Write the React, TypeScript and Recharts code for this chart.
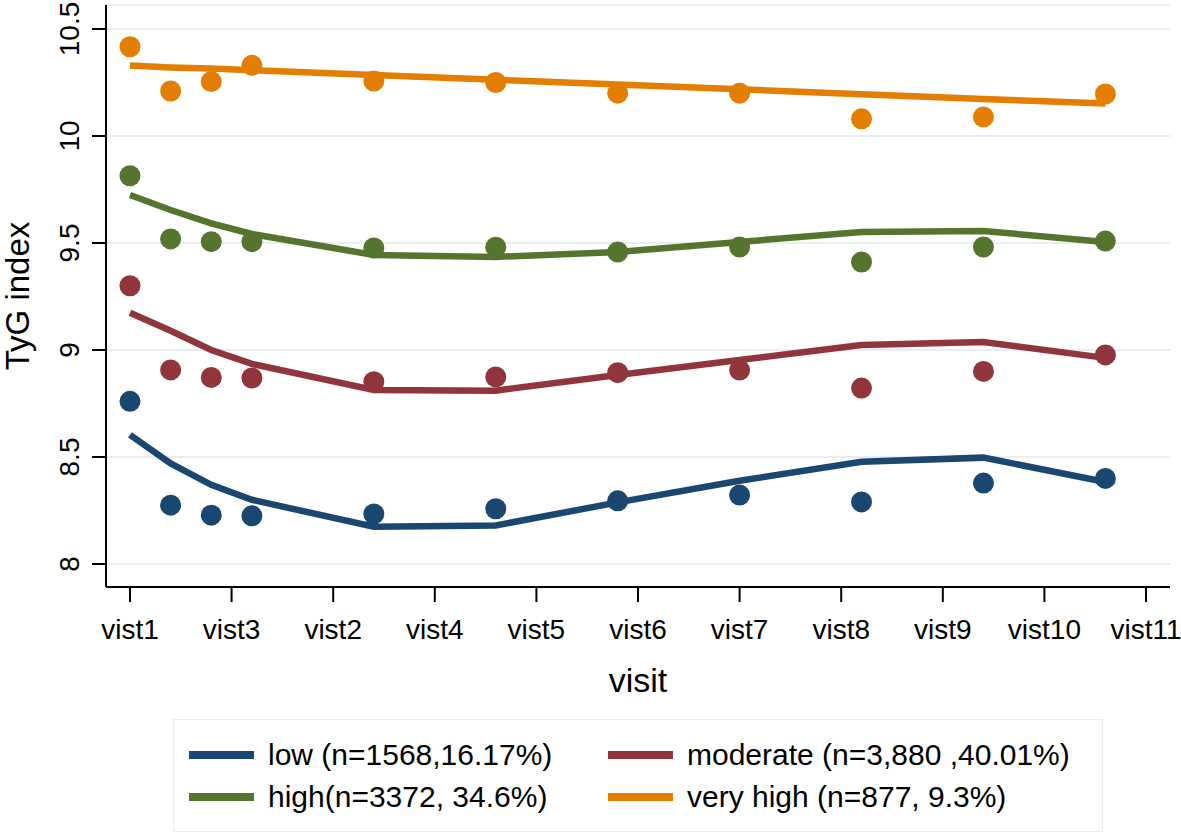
import React from "react";
import {
  ComposedChart,
  Line,
  Scatter,
  XAxis,
  YAxis,
  CartesianGrid,
} from "recharts";

// visit positions (x) and axis tick labels as printed in the figure
const visitX = [1, 1.4, 1.8, 2.2, 3.4, 4.6, 5.8, 7.0, 8.2, 9.4, 10.6];
const xTicks = [1, 2, 3, 4, 5, 6, 7, 8, 9, 10, 11];
const xTickLabels = [
  "vist1", "vist3", "vist2", "vist4", "vist5", "vist6",
  "vist7", "vist8", "vist9", "vist10", "vist11",
];
const yTicks = [8, 8.5, 9, 9.5, 10, 10.5];

// observed means (dots) and fitted trajectories (lines)
const lowObs = [8.76, 8.275, 8.228, 8.225, 8.234, 8.258, 8.295, 8.322, 8.29, 8.378, 8.4];
const lowFit = [8.603, 8.47, 8.37, 8.3, 8.174, 8.18, 8.288, 8.389, 8.478, 8.497, 8.383];
const modObs = [9.3, 8.907, 8.872, 8.869, 8.852, 8.874, 8.894, 8.906, 8.822, 8.9, 8.977];
const modFit = [9.174, 9.09, 9.0, 8.935, 8.813, 8.81, 8.883, 8.953, 9.023, 9.037, 8.963];
const highObs = [9.814, 9.519, 9.506, 9.506, 9.477, 9.48, 9.458, 9.481, 9.411, 9.481, 9.509];
const highFit = [9.724, 9.654, 9.592, 9.542, 9.444, 9.435, 9.458, 9.505, 9.551, 9.556, 9.505];
const vhighObs = [10.417, 10.21, 10.254, 10.33, 10.257, 10.25, 10.2, 10.2, 10.08, 10.089, 10.196];
const vhighFit = [10.329, 10.32, 10.315, 10.307, 10.285, 10.263, 10.24, 10.218, 10.195, 10.173, 10.152];

const groups = [
  { key: "low", name: "low (n=1568,16.17%)", color: "#1a476f" },
  { key: "mod", name: "moderate (n=3,880 ,40.01%)", color: "#90353b" },
  { key: "high", name: "high(n=3372, 34.6%)", color: "#55752f" },
  { key: "vhigh", name: "very high (n=877, 9.3%)", color: "#e37e00" },
];

const rows = visitX.map((x, i) => ({
  x,
  lowObs: lowObs[i],
  lowFit: lowFit[i],
  modObs: modObs[i],
  modFit: modFit[i],
  highObs: highObs[i],
  highFit: highFit[i],
  vhighObs: vhighObs[i],
  vhighFit: vhighFit[i],
}));

const FONT = '"Liberation Sans", Arial, sans-serif';

const YTick = (props: any) => {
  const { x, y, payload } = props;
  const bx = x - 11;
  return (
    <text
      x={bx}
      y={y}
      transform={`rotate(-90, ${bx}, ${y})`}
      textAnchor="middle"
      fontSize={28}
      fill="#000"
      fontFamily={FONT}
    >
      {payload.value}
    </text>
  );
};

const YTitle = (props: any) => {
  const { viewBox } = props;
  const cy = viewBox.y + viewBox.height / 2;
  return (
    <text
      x={29}
      y={cy}
      transform={`rotate(-90, 29, ${cy})`}
      textAnchor="middle"
      fontSize={33}
      fill="#000"
      fontFamily={FONT}
    >
      TyG index
    </text>
  );
};

export default function App() {
  return (
    <div
      style={{
        position: "absolute",
        left: 0,
        top: 0,
        width: 1181,
        height: 834,
        background: "#fff",
        fontFamily: FONT,
      }}
    >
      <ComposedChart
        width={1181}
        height={834}
        data={rows}
        margin={{ top: 5, right: 11, left: 0, bottom: 137 }}
      >
        <CartesianGrid vertical={false} stroke="#e8eff2" strokeWidth={2} />
        <XAxis
          dataKey="x"
          type="number"
          domain={[0.764, 11.236]}
          ticks={xTicks}
          tickFormatter={(v: number) => xTickLabels[v - 1]}
          allowDataOverflow
          height={110}
          tickSize={15}
          tickMargin={17}
          axisLine={{ stroke: "#000", strokeWidth: 2 }}
          tickLine={{ stroke: "#000", strokeWidth: 2 }}
          tick={{ fontSize: 28, fill: "#000", fontFamily: FONT }}
          label={{
            value: "visit",
            position: "insideBottom",
            offset: 5,
            fontSize: 34,
            fill: "#000",
            fontFamily: FONT,
          }}
        />
        <YAxis
          type="number"
          domain={[7.8925, 10.612]}
          ticks={yTicks}
          allowDataOverflow
          width={106}
          tickSize={14}
          axisLine={{ stroke: "#000", strokeWidth: 2 }}
          tickLine={{ stroke: "#000", strokeWidth: 2 }}
          tick={<YTick />}
          label={{ content: <YTitle /> } as any}
        />
        {groups.map((g) => (
          <Line
            key={g.key + "Fit"}
            dataKey={g.key + "Fit"}
            type="linear"
            stroke={g.color}
            strokeWidth={6.5}
            dot={false}
            activeDot={false}
            isAnimationActive={false}
          />
        ))}
        {groups.map((g) => (
          <Scatter
            key={g.key + "Obs"}
            dataKey={g.key + "Obs"}
            fill={g.color}
            isAnimationActive={false}
            shape={(p: any) => <circle cx={p.cx} cy={p.cy} r={10.5} fill={g.color} />}
          />
        ))}
      </ComposedChart>

      <div
        style={{
          position: "absolute",
          left: 173,
          top: 719,
          width: 930,
          height: 113,
          boxSizing: "border-box",
          border: "1.5px solid #e6eef2",
        }}
      >
        {groups.map((g, i) => {
          const col = i % 2;
          const row = Math.floor(i / 2);
          return (
            <div
              key={g.key}
              style={{
                position: "absolute",
                left: col === 0 ? 15 : 434,
                top: row === 0 ? 35 : 77,
                height: 0,
                display: "flex",
                alignItems: "center",
                whiteSpace: "nowrap",
              }}
            >
              <div style={{ width: 65, height: 8, background: g.color }} />
              <span style={{ marginLeft: 14, fontSize: 30, color: "#000" }}>{g.name}</span>
            </div>
          );
        })}
      </div>
    </div>
  );
}
